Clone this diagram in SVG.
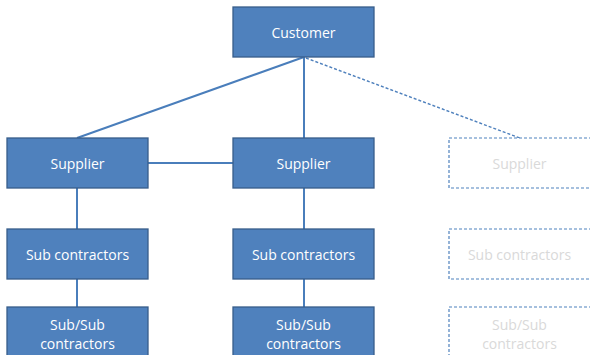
<svg xmlns="http://www.w3.org/2000/svg" width="590" height="355" viewBox="0 0 590 355">
  <style>
    .box { fill: #4F81BD; stroke: #385D8A; stroke-width: 1.3; }
    .ghost { fill: #FFFFFF; stroke: #4F81BD; stroke-width: 1.2; stroke-dasharray: 3 2; }
    .lbl { font-family: "Open Sans", "Liberation Sans", sans-serif; font-size: 14px; fill: #FFFFFF; text-anchor: middle; }
    .glbl { font-family: "Open Sans", "Liberation Sans", sans-serif; font-size: 14px; fill: #D9D9D9; text-anchor: middle; }
    .link { stroke: #4A7EBB; stroke-width: 2; fill: none; }
    .dlink { stroke: #4F81BD; stroke-width: 1.4; stroke-dasharray: 3 2; fill: none; }
  </style>
  <rect width="590" height="355" fill="#FFFFFF"/>

  <g id="connectors">
    <line class="link" x1="304" y1="57" x2="77" y2="138"/>
    <line class="link" x1="304" y1="57" x2="304" y2="138"/>
    <line class="dlink" x1="306" y1="58" x2="520" y2="138"/>
    <line class="link" x1="148" y1="163" x2="233" y2="163"/>
    <line class="link" x1="77" y1="188" x2="77" y2="229"/>
    <line class="link" x1="77" y1="279" x2="77" y2="307"/>
    <line class="link" x1="304" y1="188" x2="304" y2="229"/>
    <line class="link" x1="304" y1="279" x2="304" y2="307"/>
  </g>

  <g id="customer">
    <rect class="box" x="233" y="7" width="141" height="50"/>
    <text class="lbl" x="303.5" y="38">Customer</text>
  </g>

  <g id="supplier-1">
    <rect class="box" x="7" y="138" width="141" height="50"/>
    <text class="lbl" x="77.5" y="169">Supplier</text>
  </g>
  <g id="supplier-2">
    <rect class="box" x="233" y="138" width="141" height="50"/>
    <text class="lbl" x="303.5" y="169">Supplier</text>
  </g>
  <g id="supplier-3">
    <rect class="ghost" x="449" y="138" width="145" height="50"/>
    <text class="glbl" x="519.5" y="169">Supplier</text>
  </g>

  <g id="subcontractors-1">
    <rect class="box" x="7" y="229" width="141" height="50"/>
    <text class="lbl" x="77.5" y="260">Sub contractors</text>
  </g>
  <g id="subcontractors-2">
    <rect class="box" x="233" y="229" width="141" height="50"/>
    <text class="lbl" x="303.5" y="260">Sub contractors</text>
  </g>
  <g id="subcontractors-3">
    <rect class="ghost" x="449" y="229" width="145" height="50"/>
    <text class="glbl" x="519.5" y="260">Sub contractors</text>
  </g>

  <g id="subsub-1">
    <rect class="box" x="7" y="307" width="141" height="55"/>
    <text class="lbl" x="77.5" y="330">Sub/Sub</text>
    <text class="lbl" x="77.5" y="349">contractors</text>
  </g>
  <g id="subsub-2">
    <rect class="box" x="233" y="307" width="141" height="55"/>
    <text class="lbl" x="303.5" y="330">Sub/Sub</text>
    <text class="lbl" x="303.5" y="349">contractors</text>
  </g>
  <g id="subsub-3">
    <rect class="ghost" x="449" y="307" width="145" height="55"/>
    <text class="glbl" x="519.5" y="330">Sub/Sub</text>
    <text class="glbl" x="519.5" y="349">contractors</text>
  </g>
</svg>
